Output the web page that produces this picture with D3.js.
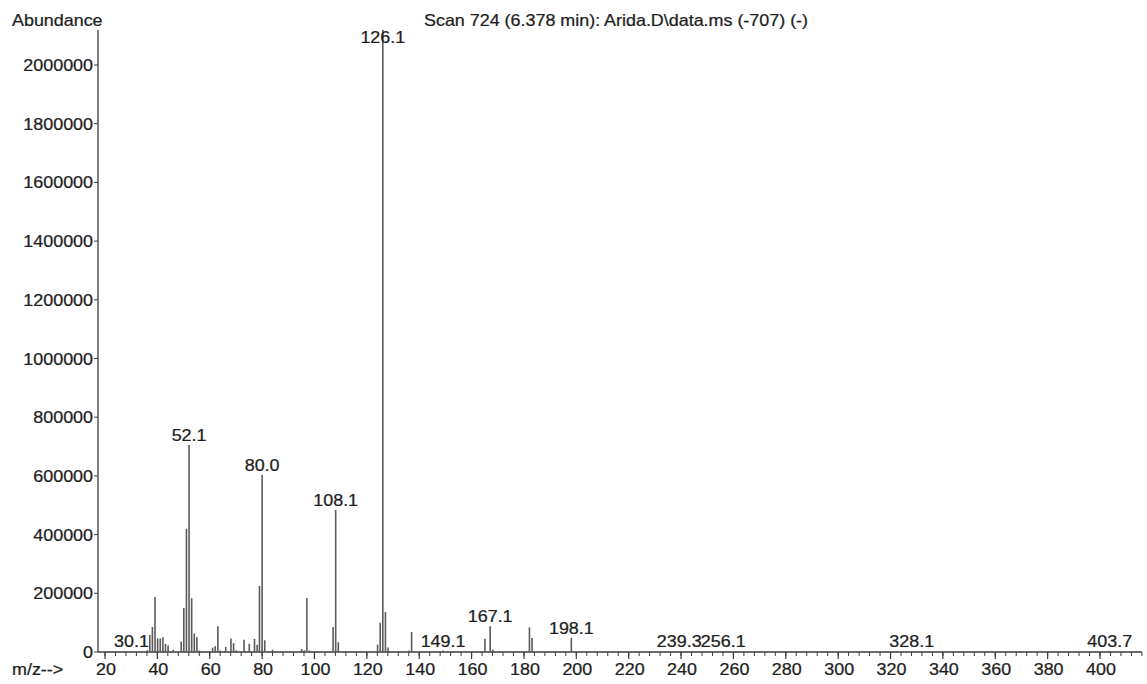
<!DOCTYPE html>
<html>
<head>
<meta charset="utf-8">
<script src="https://cdn.jsdelivr.net/npm/d3@7"></script>
<style>
  html, body { margin: 0; padding: 0; background: #fff; }
  svg text { font-family: "Liberation Sans", Arial, sans-serif; fill: #1e1e1e; stroke: #1e1e1e; stroke-width: 0.25px; }
</style>
</head>
<body>
<svg id="chart" width="1147" height="684"></svg>
<script>
// Mass spectrum peaks: m/z and abundance
const mz = [
  30.1, 36.1, 37.1, 38.1, 39.1, 40.1, 41.1, 42.1, 43.1, 44.1, 46.1, 49.1,
  50.1, 51.1, 52.1, 53.1, 54.1, 55.1, 56.1, 61.1, 62.1, 63.1, 64.1, 66.1,
  68.1, 69.1, 70.1, 73.1, 75.1, 77.1, 78.1, 79.0, 80.0, 81.0, 84.0,
  95.1, 96.1, 97.1, 98.1, 107.1, 108.1, 109.1, 124.1, 125.1, 126.1, 127.1,
  128.1, 136.1, 137.1, 149.1, 165.1, 167.1, 168.1, 182.1, 183.1, 198.1,
  239.3, 256.1, 328.1, 403.7
];
const abundance = [
  3000, 6000, 58000, 85000, 187000, 46000, 46000, 50000, 28000, 22000, 8000, 36000,
  150000, 420000, 705000, 183000, 63000, 50000, 5000, 15000, 20000, 88000, 5000, 17000,
  46000, 30000, 6000, 42000, 28000, 45000, 25000, 225000, 603000, 40000, 8000,
  10000, 6000, 184000, 5000, 85000, 484000, 33000, 25000, 100000, 2120000, 136000,
  15000, 5000, 68000, 5000, 45000, 88000, 8000, 84000, 48000, 48000,
  3000, 3000, 3000, 4000
];

// Annotated peaks
const labelMz = [30.1, 52.1, 80.0, 108.1, 126.1, 149.1, 167.1, 198.1, 239.3, 256.1, 328.1, 403.7];
const labelText = ["30.1", "52.1", "80.0", "108.1", "126.1", "149.1", "167.1", "198.1", "239.3", "256.1", "328.1", "403.7"];

// Axis ticks
const xMajorTicks = d3.range(20, 401, 20);
const xMinorTicks = d3.range(20, 417, 4);
const yTicks = d3.range(0, 2000001, 200000);

const titleText = "Scan 724 (6.378 min): Arida.D\\data.ms (-707) (-)";

const svg = d3.select("#chart");
svg.append("rect").attr("width", 1147).attr("height", 684).attr("fill", "#fff");

const x = d3.scaleLinear().domain([20, 400]).range([105, 1100]);
const y = d3.scaleLinear().domain([0, 2000000]).range([652, 65]);
const axisX = 98;
const axisY = y(0);
const fs = 16;
const stretch = 1.12; // printed glyphs are slightly wide

// Place text at (px, py) with a horizontal stretch
function placeText(sel, px, py) {
  sel.attr("x", 0).attr("y", 0)
    .attr("transform", (d, i) => {
      const tx = typeof px === "function" ? px(d, i) : px;
      const ty = typeof py === "function" ? py(d, i) : py;
      return `translate(${tx},${ty}) scale(${stretch},1)`;
    });
  return sel;
}

// Axis lines
svg.append("line").attr("x1", axisX).attr("x2", axisX).attr("y1", axisY).attr("y2", 30)
  .attr("stroke", "#3a3a3a").attr("stroke-width", 1.3);
svg.append("line").attr("x1", axisX).attr("x2", x(416)).attr("y1", axisY).attr("y2", axisY)
  .attr("stroke", "#3a3a3a").attr("stroke-width", 1.3);

// X ticks
svg.append("g").selectAll("line.minor").data(xMinorTicks).join("line")
  .attr("x1", d => x(d)).attr("x2", d => x(d))
  .attr("y1", axisY).attr("y2", axisY + 4)
  .attr("stroke", "#3a3a3a").attr("stroke-width", 1);
svg.append("g").selectAll("line.major").data(xMajorTicks).join("line")
  .attr("x1", d => x(d)).attr("x2", d => x(d))
  .attr("y1", axisY).attr("y2", axisY + 7)
  .attr("stroke", "#3a3a3a").attr("stroke-width", 1.2);
placeText(svg.append("g").selectAll("text").data(xMajorTicks).join("text")
  .attr("text-anchor", "middle").attr("font-size", fs)
  .text(d => d), d => x(d) + 1, 675);

// Y ticks
svg.append("g").selectAll("line").data(yTicks).join("line")
  .attr("x1", axisX - 4).attr("x2", axisX)
  .attr("y1", d => y(d)).attr("y2", d => y(d))
  .attr("stroke", "#3a3a3a").attr("stroke-width", 1);
placeText(svg.append("g").selectAll("text").data(yTicks).join("text")
  .attr("text-anchor", "end").attr("font-size", fs)
  .text(d => d), axisX - 5, d => y(d) + 6);

// Peaks
const peaks = mz.map((m, i) => ({ m, v: abundance[i] }));
svg.append("g").selectAll("line").data(peaks).join("line")
  .attr("x1", d => x(d.m)).attr("x2", d => x(d.m))
  .attr("y1", axisY).attr("y2", d => y(d.v))
  .attr("stroke", "#5a5a5a").attr("stroke-width", 1.6);

// Peak labels
const labels = labelMz.map((m, i) => ({ m, t: labelText[i], v: abundance[mz.indexOf(m)] }));
placeText(svg.append("g").selectAll("text").data(labels).join("text")
  .attr("text-anchor", "middle").attr("font-size", fs)
  .text(d => d.t), d => x(d.m), d => Math.max(y(d.v) - 4, 43));

// Titles
placeText(svg.append("text").attr("font-size", fs).text("Abundance"), 12, 26);
placeText(svg.append("text").attr("text-anchor", "middle").attr("font-size", fs).text(titleText), 616, 26);
placeText(svg.append("text").attr("font-size", fs).text("m/z-->"), 12, 675);
</script>
</body>
</html>
